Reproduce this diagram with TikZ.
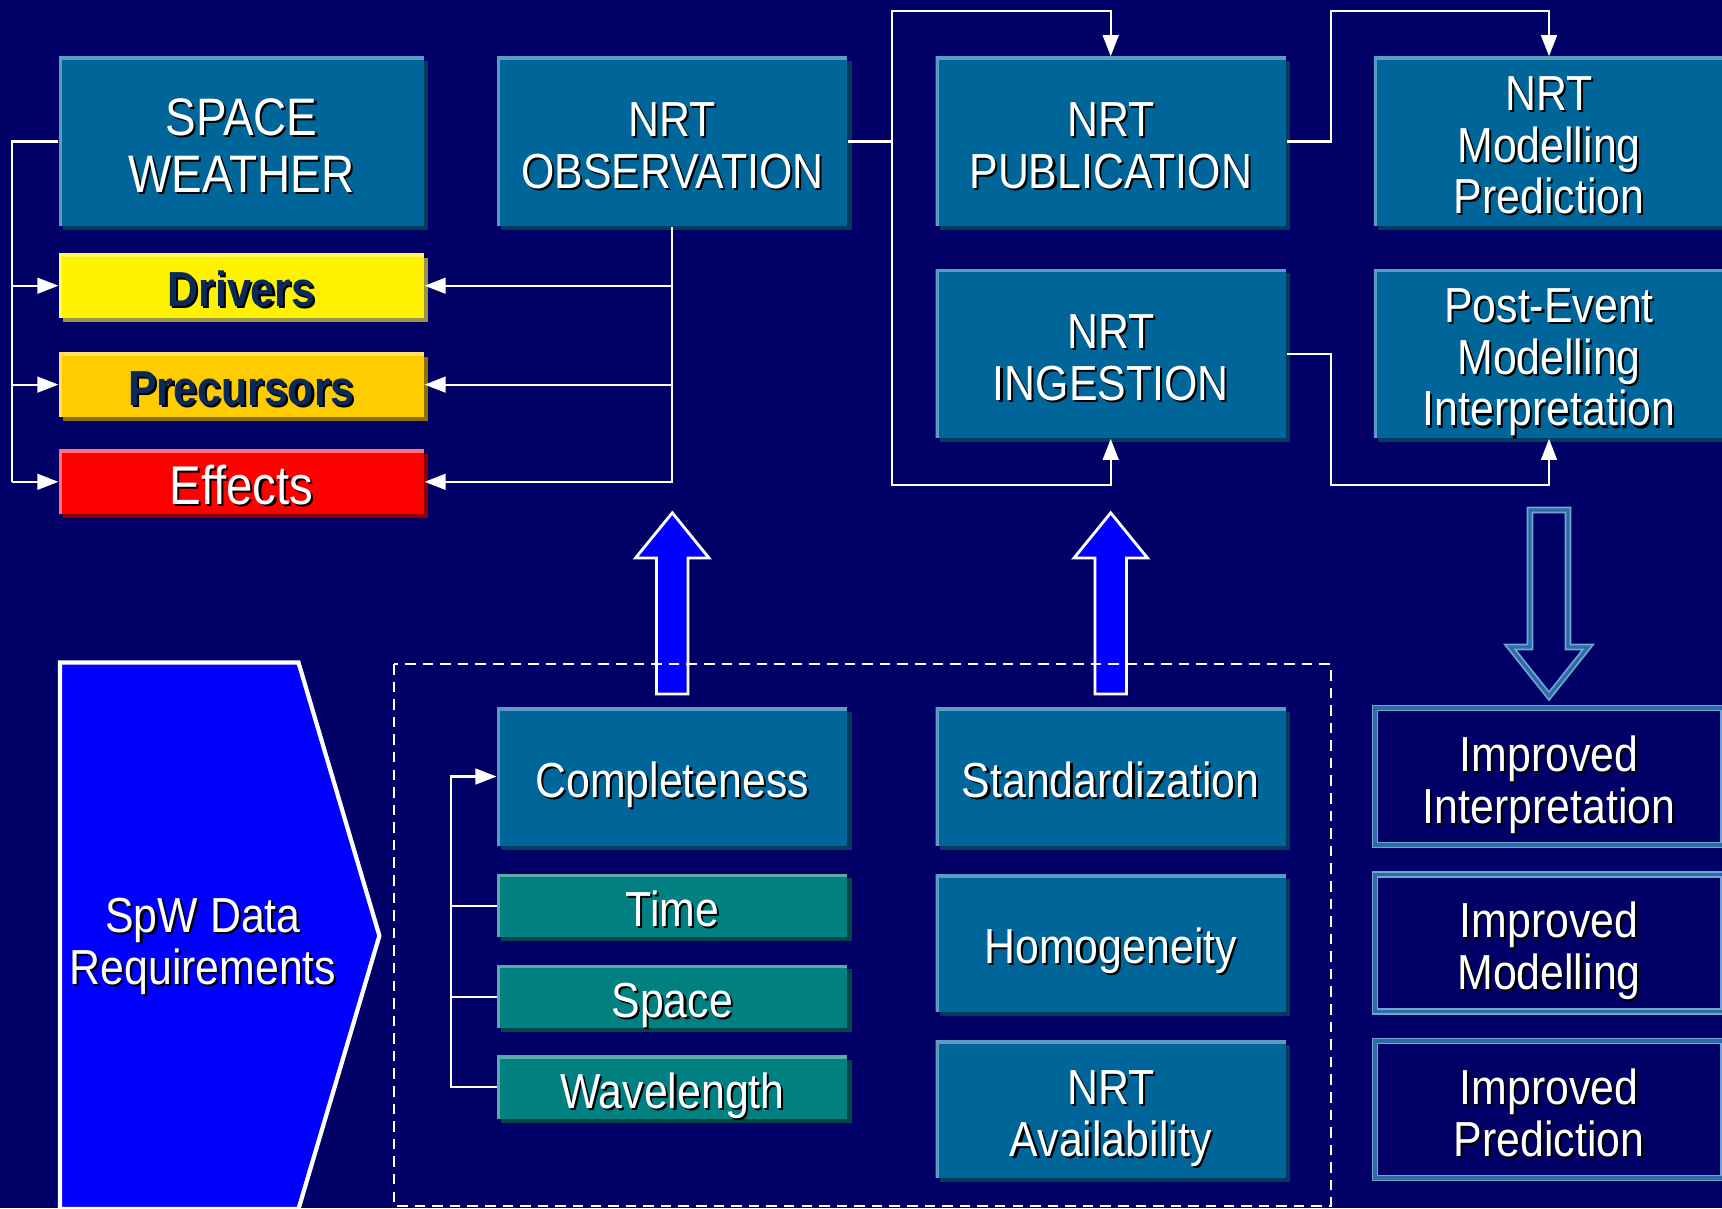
\documentclass[tikz,border=0pt]{standalone}
\usepackage{fontspec}
\setmainfont{Liberation Sans}[FakeStretch=0.87]
\usetikzlibrary{arrows.meta,shadows}
\definecolor{bgnavy}{HTML}{000066}
\definecolor{boxblue}{HTML}{006699}
\definecolor{boxlight}{HTML}{5F9AC4}
\definecolor{boxdark}{HTML}{003A5C}
\definecolor{tealbg}{HTML}{008080}
\definecolor{teallight}{HTML}{5FA8A8}
\definecolor{tealdark}{HTML}{004848}
\definecolor{gold}{HTML}{FFCC00}
\definecolor{darktxt}{HTML}{0A2A5A}
\definecolor{rimlight}{HTML}{6FA6D6}
\definecolor{rimmid}{HTML}{2E6DA4}
\newcommand\shtxt[1]{\rule[-0.09em]{0pt}{1.02em}\smash{\rlap{\kern0.6pt\raisebox{-0.6pt}{\color{black}#1}}#1}}
\tikzset{
	panel/.style n args={3}{fill=#1, inner sep=0pt, text=white, align=center,
		font=\fontsize{14}{14.7}\selectfont,
		drop shadow={shadow xshift=1.2pt, shadow yshift=-1.2pt, fill=#3, opacity=1},
		path picture={\draw[#2, line width=1.8pt] (path picture bounding box.south west) |- (path picture bounding box.north east);}},
	bluebox/.style={panel={boxblue}{boxlight}{boxdark}, minimum width=3.5cm},
	tealbox/.style={panel={tealbg}{teallight}{tealdark}, minimum width=3.5cm, minimum height=0.63cm},
	keybox/.style={minimum width=3.646cm, minimum height=0.64cm},
	outbox/.style={draw=rimlight, line width=0.5pt, double=rimmid, double distance=0.9pt, fill=bgnavy,
		inner sep=0pt, text=white, align=center, font=\fontsize{14}{14.7}\selectfont,
		minimum width=3.48cm, minimum height=1.37cm},
	wire/.style={draw=white, line width=0.6pt},
	arr/.style={wire, -{Triangle[length=6pt,width=4.5pt]}},
	bigarrow/.style={fill=blue, draw=white, line width=0.8pt},
}
\begin{document}
\begin{tikzpicture}[x=0.01cm,y=-0.01cm]
		%%%%% START %%%%%
		\fill[bgnavy] (0,0) rectangle (1722,1208);
		\useasboundingbox (0,0) rectangle (1722,1208);
		
		\coordinate (lb) at (12.3,0);
		\coordinate (cb) at (891.8,0);
		\coordinate (cc) at (1331,0);
		\coordinate (bk) at (450.6,0);
		\coordinate (tp) at (0,11.2);
		\coordinate (bt) at (0,485);
		
		% top row
		\node[bluebox, minimum width=3.646cm, minimum height=1.69cm, font=\fontsize{15}{16.2}\selectfont] (sw) at (241.5,141.5) {\shtxt{SPACE}\\\shtxt{WEATHER}};
		\node[bluebox, minimum height=1.69cm] (obs) at (672.3,141.5) {\shtxt{NRT}\\\shtxt{OBSERVATION}};
		\node[bluebox, minimum height=1.69cm] (pub) at (1110.7,141.5) {\shtxt{NRT}\\\shtxt{PUBLICATION}};
		\node[bluebox, minimum height=1.69cm] (mod) at (1549,141.5) {\shtxt{NRT}\\\shtxt{Modelling}\\\shtxt{Prediction}};
		\node[bluebox, minimum height=1.69cm] (ing) at (1110.7,353.6) {\shtxt{NRT}\\\shtxt{INGESTION}};
		\node[bluebox, minimum height=1.69cm] (post) at (1549,353.6) {\shtxt{Post-Event}\\\shtxt{Modelling}\\\shtxt{Interpretation}};
		
		\node[keybox, panel={yellow}{yellow!60!white}{yellow!55!black}, text=darktxt, font=\bfseries\fontsize{14}{14.7}\selectfont] (drv) at (241.5,285.7) {\shtxt{Drivers}};
		\node[keybox, panel={gold}{gold!60!white}{gold!55!black}, text=darktxt, font=\bfseries\fontsize{14}{14.7}\selectfont] (pre) at (241.5,384.6) {\shtxt{Precursors}};
		\node[keybox, panel={red}{red!55!white}{red!55!black}, font=\fontsize{15.5}{16.3}\selectfont] (eff) at (241.5,481.8) {\shtxt{Effects}};
		
		\draw[wire] (sw.west) -- (sw.west -| lb) -- (lb |- eff.west);
		\draw[arr] (lb |- drv.west) -- (drv.west);
		\draw[arr] (lb |- pre.west) -- (pre.west);
		\draw[arr] (lb |- eff.west) -- (eff.west);
		
		\draw[arr] (obs.south) |- (eff.east);
		\draw[arr] (obs.south |- drv.east) -- (drv.east);
		\draw[arr] (obs.south |- pre.east) -- (pre.east);
		
		\draw[arr] (obs.east) -| (cb |- tp) -| (pub.north);
		\draw[arr] (obs.east -| cb) -- (cb |- bt) -| (ing.south);
		\draw[arr] (pub.east) -| (cc |- tp) -| (mod.north);
		\draw[arr] (ing.east) -| (cc |- bt) -| (post.south);
		
		% big arrows
		\draw[bigarrow] (656.5,694) -- (656.5,558) -- (635.5,558) -- (672.3,512.8) -- (709,558) -- (688,558) -- (688,694) -- cycle;
		\draw[bigarrow] (1095,694) -- (1095,558) -- (1074,558) -- (1110.7,512.8) -- (1147.5,558) -- (1126.5,558) -- (1126.5,694) -- cycle;
		\draw[draw=rimlight, line width=0.5pt, double=rimmid, double distance=0.9pt] (1530,510) -- (1568,510) -- (1568,647) -- (1588,647) -- (1549,696) -- (1510,647) -- (1530,647) -- cycle;
		
		% requirements
		\draw[bigarrow, line width=1.2pt] (60,662.5) -- (298.5,662.5) -- (379.4,935.7) -- (298.5,1209) -- (60,1209) -- cycle;
		\node[text=white, align=center, font=\fontsize{14}{14.7}\selectfont] (req) at (203,938) {\shtxt{SpW Data}\\\shtxt{Requirements}};
		\draw[white, line width=0.8pt, dash pattern=on 3pt off 2pt] (394,664) rectangle (1331,1206);
		
		\node[bluebox, minimum height=1.38cm] (cmp) at (672.3,776.5) {\shtxt{Completeness}};
		\node[tealbox] (tim) at (672.3,905.7) {\shtxt{Time}};
		\node[tealbox] (spc) at (672.3,996.6) {\shtxt{Space}};
		\node[tealbox] (wav) at (672.3,1087.3) {\shtxt{Wavelength}};
		\draw[arr] (wav.west) -| (bk |- cmp.west) -- (cmp.west);
		\draw[wire] (bk |- tim.west) -- (tim.west);
		\draw[wire] (bk |- spc.west) -- (spc.west);
		
		\node[bluebox, minimum height=1.38cm] (std) at (1110.7,776.5) {\shtxt{Standardization}};
		\node[bluebox, minimum height=1.37cm] (hom) at (1110.7,943) {\shtxt{Homogeneity}};
		\node[bluebox, minimum height=1.37cm] (ava) at (1110.7,1109.5) {\shtxt{NRT}\\\shtxt{Availability}};
		
		\node[outbox] (ii) at (1549,776.5) {\shtxt{Improved}\\\shtxt{Interpretation}};
		\node[outbox] (im) at (1549,943) {\shtxt{Improved}\\\shtxt{Modelling}};
		\node[outbox] (ip) at (1549,1109.5) {\shtxt{Improved}\\\shtxt{Prediction}};
		%%%%% END %%%%%
	\end{tikzpicture}
\end{document}
